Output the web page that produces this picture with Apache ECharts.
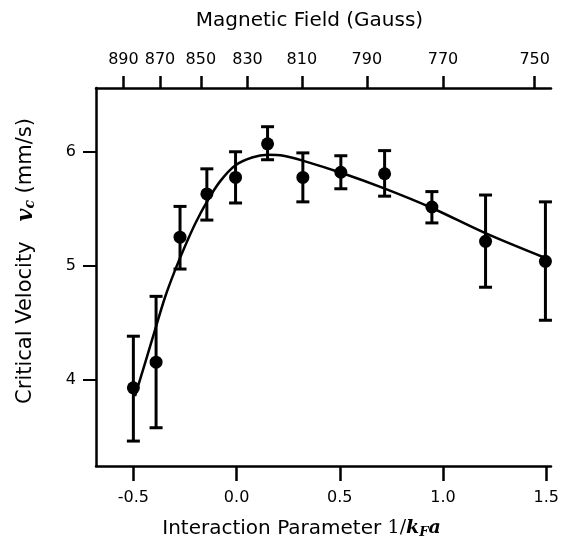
<!DOCTYPE html>
<html>
<head>
<meta charset="utf-8">
<script src="https://cdn.jsdelivr.net/npm/echarts@6/dist/echarts.min.js"></script>
<style>
html,body{margin:0;padding:0;background:#fff;}
#chart{width:570px;height:544px;}
</style>
</head>
<body>
<div id="chart"></div>
<script>
// Measured data points: interaction parameter 1/kFa, critical velocity (mm/s), error bar low/high
var pointX  = [-0.5, -0.39, -0.274, -0.144, -0.005, 0.150, 0.321, 0.505, 0.717, 0.946, 1.206, 1.496];
var pointY  = [3.927, 4.152, 5.25, 5.63, 5.775, 6.07, 5.775, 5.82, 5.807, 5.515, 5.213, 5.038];
var errLow  = [3.459, 3.576, 4.97, 5.40, 5.55, 5.93, 5.56, 5.675, 5.61, 5.375, 4.81, 4.52];
var errHigh = [4.38, 4.73, 5.52, 5.85, 6.00, 6.22, 5.99, 5.965, 6.01, 5.65, 5.62, 5.56];

// Fit curve
var fitX = [-0.492, -0.443, -0.395, -0.347, -0.298, -0.25, -0.2, -0.144, -0.08, -0.007, 0.075, 0.150, 0.227, 0.324, 0.51, 0.712, 0.946, 1.205, 1.496];
var fitY = [3.853, 4.146, 4.435, 4.72, 4.96, 5.17, 5.37, 5.56, 5.74, 5.88, 5.95, 5.974, 5.965, 5.92, 5.813, 5.68, 5.506, 5.285, 5.067];

// Bottom axis ticks
var bottomTicks = [-0.5, 0.0, 0.5, 1.0, 1.5];
// Left axis ticks
var leftTicks = [4, 5, 6];
// Top axis (magnetic field, Gauss): labels and their positions on the 1/kFa scale
var gaussLabels = ['890', '870', '850', '830', '810', '790', '770', '750'];
var gaussPositions = [-0.548, -0.371, -0.173, 0.053, 0.316, 0.631, 1.0, 1.444];

var xMin = -0.681, xMax = 1.523, yMin = 3.24, yMax = 6.56;

var font = 'DejaVu Sans';
var chart = echarts.init(document.getElementById('chart'), null, {renderer: 'canvas'});

var points = pointX.map(function (x, i) { return [x, pointY[i]]; });
var bars = pointX.map(function (x, i) { return [x, errLow[i], errHigh[i]]; });
var fit = fitX.map(function (x, i) { return [x, fitY[i]]; });

function nearestLabel(v) {
  var best = 0, d = Infinity;
  for (var i = 0; i < gaussPositions.length; i++) {
    var dd = Math.abs(gaussPositions[i] - v);
    if (dd < d) { d = dd; best = i; }
  }
  return gaussLabels[best];
}

var axisLineStyle = {color: '#000', width: 2.5};

chart.setOption({
  animation: false,
  backgroundColor: '#fff',
  grid: {left: 96, right: 19, top: 88, bottom: 77, containLabel: false},
  xAxis: [
    {
      type: 'value', position: 'bottom', min: xMin, max: xMax,
      name: 'Interaction Parameter {m|1/}{mi|k}{sub|F}{mi|a}',
      nameLocation: 'middle', nameGap: 52,
      nameTextStyle: {
        fontFamily: font, fontSize: 20, color: '#000', padding: [0, 44, 0, 0],
        rich: {
          m: {fontFamily: 'DejaVu Serif', fontSize: 19, color: '#000'},
          mi: {fontFamily: 'DejaVu Serif', fontStyle: 'italic', fontWeight: 'bold', fontSize: 19, color: '#000'},
          sub: {fontFamily: 'DejaVu Serif', fontStyle: 'italic', fontWeight: 'bold', fontSize: 13, color: '#000', verticalAlign: 'bottom', padding: [8, 0, 0, 0]}
        }
      },
      axisLine: {show: true, onZero: false, lineStyle: axisLineStyle},
      axisTick: {show: true, inside: false, length: 15, customValues: bottomTicks, lineStyle: {color: '#000', width: 2.5}},
      axisLabel: {
        customValues: bottomTicks, margin: 24, fontFamily: font, fontSize: 16, color: '#000',
        formatter: function (v) { return v.toFixed(1); }
      },
      splitLine: {show: false}
    },
    {
      type: 'value', position: 'top', min: xMin, max: xMax,
      name: 'Magnetic Field (Gauss)',
      nameLocation: 'middle', nameGap: 57,
      nameTextStyle: {fontFamily: font, fontSize: 20, color: '#000', padding: [0, 28, 0, 0]},
      axisLine: {show: true, onZero: false, lineStyle: axisLineStyle},
      axisTick: {show: true, inside: false, length: 12, customValues: gaussPositions, lineStyle: {color: '#000', width: 2.5}},
      axisLabel: {
        customValues: gaussPositions, margin: 20, fontFamily: font, fontSize: 16, color: '#000',
        formatter: function (v) { return nearestLabel(v); }
      },
      splitLine: {show: false}
    }
  ],
  yAxis: [
    {
      type: 'value', min: yMin, max: yMax,
      name: 'Critical Velocity   {v|v}{sub|c} (mm/s)',
      nameLocation: 'middle', nameGap: 59, nameRotate: 90,
      nameTextStyle: {
        fontFamily: font, fontSize: 21, color: '#000', padding: [0, 0, 0, 32],
        rich: {
          v: {fontFamily: 'DejaVu Serif', fontStyle: 'italic', fontWeight: 'bold', fontSize: 22, color: '#000'},
          sub: {fontFamily: 'DejaVu Serif', fontStyle: 'italic', fontWeight: 'bold', fontSize: 14, color: '#000', verticalAlign: 'bottom', padding: [8, 0, 0, 0]}
        }
      },
      axisLine: {show: true, onZero: false, lineStyle: axisLineStyle},
      axisTick: {show: true, inside: false, length: 13, customValues: leftTicks, lineStyle: {color: '#000', width: 2}},
      axisLabel: {customValues: leftTicks, margin: 20, fontFamily: font, fontSize: 16, color: '#000'},
      splitLine: {show: false}
    }
  ],
  series: [
    {
      type: 'line', xAxisIndex: 0, yAxisIndex: 0, data: fit, smooth: 0.35,
      showSymbol: false, symbol: 'none', lineStyle: {color: '#000', width: 2.5}, z: 2
    },
    {
      type: 'custom', xAxisIndex: 0, yAxisIndex: 0, data: bars, z: 3,
      renderItem: function (params, api) {
        var x = api.value(0);
        var lo = api.coord([x, api.value(1)]);
        var hi = api.coord([x, api.value(2)]);
        var hw = 6.5;
        var style = {stroke: '#000', lineWidth: 3};
        return {
          type: 'group',
          children: [
            {type: 'line', shape: {x1: lo[0], y1: lo[1], x2: hi[0], y2: hi[1]}, style: style},
            {type: 'line', shape: {x1: lo[0] - hw, y1: lo[1], x2: lo[0] + hw, y2: lo[1]}, style: style},
            {type: 'line', shape: {x1: hi[0] - hw, y1: hi[1], x2: hi[0] + hw, y2: hi[1]}, style: style}
          ]
        };
      }
    },
    {
      type: 'scatter', xAxisIndex: 0, yAxisIndex: 0, data: points, symbol: 'circle', symbolSize: 13,
      itemStyle: {color: '#000', opacity: 1}, z: 4
    }
  ]
});
</script>
</body>
</html>
